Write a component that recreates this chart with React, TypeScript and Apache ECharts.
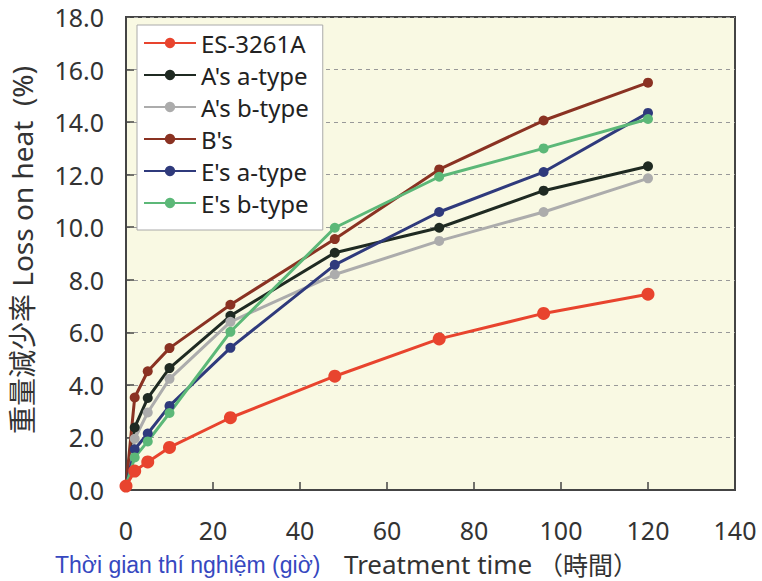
import React, { useEffect, useRef } from "react";
import * as echarts from "echarts";

const times = [0, 2, 5, 10, 24, 48, 72, 96, 120];
const es3261a = [0.15, 0.72, 1.07, 1.62, 2.75, 4.33, 5.75, 6.72, 7.45];
const aTypeA = [0.15, 2.38, 3.5, 4.64, 6.63, 9.03, 9.98, 11.39, 12.32];
const aTypeB = [0.15, 1.95, 2.95, 4.23, 6.4, 8.2, 9.48, 10.58, 11.86];
const bS = [0.15, 3.52, 4.52, 5.4, 7.05, 9.55, 12.2, 14.06, 15.5];
const eTypeA = [0.15, 1.55, 2.15, 3.2, 5.41, 8.57, 10.58, 12.1, 14.35];
const eTypeB = [0.15, 1.24, 1.85, 2.93, 6.02, 9.98, 11.92, 13.0, 14.12];

const seriesNames = ["ES-3261A", "A's a-type", "A's b-type", "B's", "E's a-type", "E's b-type"];
const seriesValues = [es3261a, aTypeA, aTypeB, bS, eTypeA, eTypeB];
const seriesColors = ["#e8442e", "#1f2a22", "#acacac", "#8a3222", "#2f3a7c", "#5cb878"];

const yAxisTitle = "重量減少率 Loss on heat  (%)";
const xTitleVi = "Thời gian thí nghiệm (giờ)";
const xTitleEn = "Treatment time";
const xTitleJa = "（時間）";

export default function App() {
  const ref = useRef<HTMLDivElement>(null);
  useEffect(() => {
    const chart = echarts.init(ref.current!, null, { renderer: "svg" });
    const font = "'Noto Sans', 'Noto Sans CJK JP', sans-serif";
    chart.setOption({
      animation: false,
      backgroundColor: "#ffffff",
      grid: {
        left: 126,
        right: 27,
        top: 17,
        bottom: 91,
        show: true,
        backgroundColor: "#f9f9e3",
        borderColor: "#444",
        borderWidth: 2,
        containLabel: false,
        outerBoundsMode: "none",
      },
      legend: {
        data: seriesNames,
        orient: "vertical",
        left: 137,
        top: 25,
        itemWidth: 52,
        itemHeight: 13,
        itemGap: 8,
        backgroundColor: "#ffffff",
        borderColor: "#aaa",
        borderWidth: 1,
        padding: [6, 14, 15, 6],
        textStyle: { fontSize: 24, lineHeight: 24, color: "#222", fontFamily: font },
      },
      xAxis: {
        type: "value",
        min: 0,
        max: 140,
        interval: 20,
        axisLine: { show: true, lineStyle: { color: "#444", width: 2 } },
        axisTick: { show: true, inside: true, length: 8, lineStyle: { color: "#444", width: 1.5 } },
        axisLabel: { fontSize: 25, color: "#333", margin: 27, fontFamily: font },
        splitLine: { show: false },
      },
      yAxis: {
        type: "value",
        min: 0,
        max: 18,
        interval: 2,
        axisLine: { show: true, lineStyle: { color: "#444", width: 2 } },
        axisTick: { show: true, inside: true, length: 8, lineStyle: { color: "#444", width: 1.5 } },
        axisLabel: {
          fontSize: 25,
          color: "#333",
          margin: 22,
          fontFamily: font,
          formatter: (v: number) => v.toFixed(1),
        },
        splitLine: { show: true, lineStyle: { color: "#999", type: [4, 4], width: 1 } },
      },
      graphic: [
        {
          type: "text",
          x: 22,
          y: 250,
          rotation: Math.PI / 2,
          style: {
            text: yAxisTitle,
            fontSize: 28,
            fill: "#333",
            fontFamily: font,
            textAlign: "center",
            textVerticalAlign: "middle",
          },
        },
        {
          type: "text",
          x: 55,
          y: 565,
          style: {
            text: xTitleVi,
            fontSize: 23,
            fill: "#3648c0",
            fontFamily: "'Liberation Sans', Arial, sans-serif",
            textAlign: "left",
            textVerticalAlign: "middle",
          },
        },
        {
          type: "text",
          x: 344,
          y: 564,
          style: {
            text: xTitleEn,
            fontSize: 26,
            fill: "#333",
            fontFamily: font,
            textAlign: "left",
            textVerticalAlign: "middle",
          },
        },
        {
          type: "text",
          x: 538,
          y: 564,
          style: {
            text: xTitleJa,
            fontSize: 25,
            fill: "#333",
            fontFamily: "'Noto Sans CJK JP', sans-serif",
            textAlign: "left",
            textVerticalAlign: "middle",
          },
        },
      ],
      series: seriesNames.map((name, i) => ({
        name,
        type: "line",
        z: i === 0 ? 4 : 2,
        data: times.map((t, j) => [t, seriesValues[i][j]]),
        symbol: "circle",
        symbolSize: i === 0 ? 13 : 10,
        lineStyle: { color: seriesColors[i], width: 3 },
        itemStyle: { color: seriesColors[i] },
      })),
    });
    return () => chart.dispose();
  }, []);
  return <div ref={ref} style={{ position: "fixed", left: 0, top: 0, width: 762, height: 581 }} />;
}
